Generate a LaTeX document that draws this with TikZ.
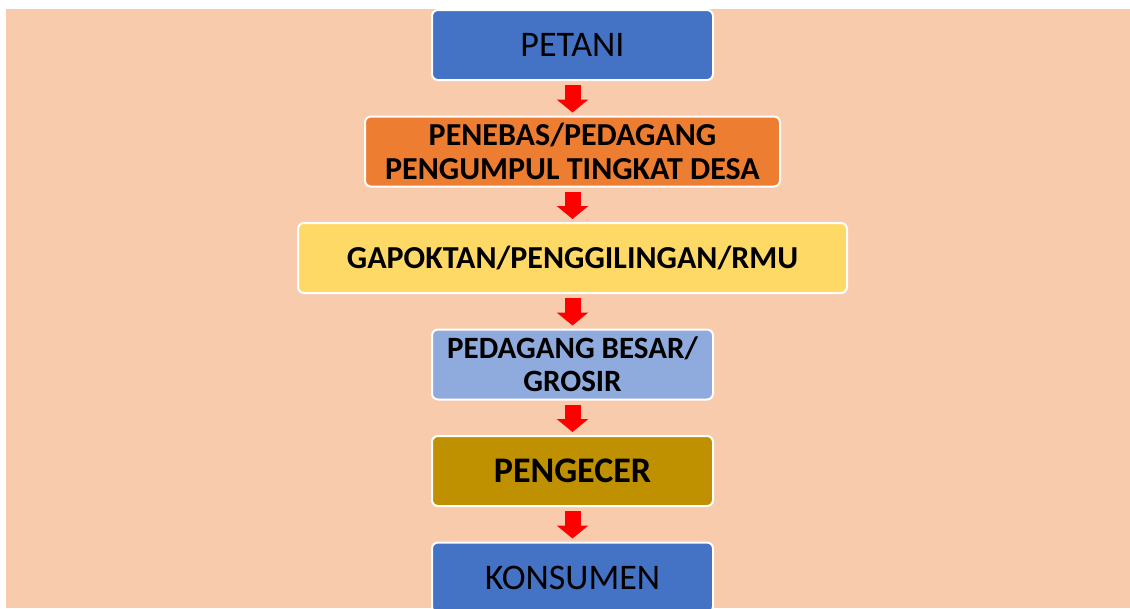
\documentclass[tikz,border=0pt]{standalone}
\usepackage{fontspec}
\setmainfont{Carlito}
\usetikzlibrary{positioning, arrows.meta}

\definecolor{peach}{HTML}{F8CBAD}
\definecolor{boxblue}{HTML}{4472C4}
\definecolor{boxorange}{HTML}{ED7D31}
\definecolor{boxyellow}{HTML}{FFD966}
\definecolor{boxlight}{HTML}{8FAADC}
\definecolor{boxgold}{HTML}{BF9000}

\begin{document}
\begin{tikzpicture}[x=1pt, y=-1pt,
    level/.style={draw=white, line width=2pt, rounded corners=6pt,
      minimum height=70pt, align=center, inner sep=0pt},
    flowarrow/.style={red, line width=16pt,
      -{Triangle[width=31pt, length=13pt]}}]
  \useasboundingbox (0,0) rectangle (1130,608);
  \fill[peach] (6,9) rectangle (1130,608);

  \node[level, fill=boxblue, minimum width=281pt,
    font=\fontsize{36}{42}\selectfont] (petani) at (572.5,45) {PETANI};
  \node[level, fill=boxorange, minimum width=415pt,
    font=\fontsize{32}{34}\selectfont\bfseries, below=34.5pt of petani]
    (penebas) {PENEBAS/PEDAGANG\\PENGUMPUL TINGKAT DESA};
  \node[level, fill=boxyellow, minimum width=549pt,
    font=\fontsize{32}{34}\selectfont\bfseries, below=34.5pt of penebas]
    (gapoktan) {GAPOKTAN/PENGGILINGAN/RMU};
  \node[level, fill=boxlight, minimum width=281pt,
    font=\fontsize{31}{33}\selectfont\bfseries, below=34.5pt of gapoktan]
    (grosir) {PEDAGANG BESAR/\\GROSIR};
  \node[level, fill=boxgold, minimum width=281pt,
    font=\fontsize{36}{42}\selectfont\bfseries, below=34.5pt of grosir]
    (pengecer) {PENGECER};
  \node[level, fill=boxblue, minimum width=281pt,
    font=\fontsize{36}{42}\selectfont, below=34.5pt of pengecer]
    (konsumen) {KONSUMEN};

  \foreach \a/\b in {petani/penebas, penebas/gapoktan, gapoktan/grosir,
      grosir/pengecer, pengecer/konsumen}
    \draw[flowarrow] ([yshift=-4pt]\a.south) -- ([yshift=3pt]\b.north);
\end{tikzpicture}
\end{document}
